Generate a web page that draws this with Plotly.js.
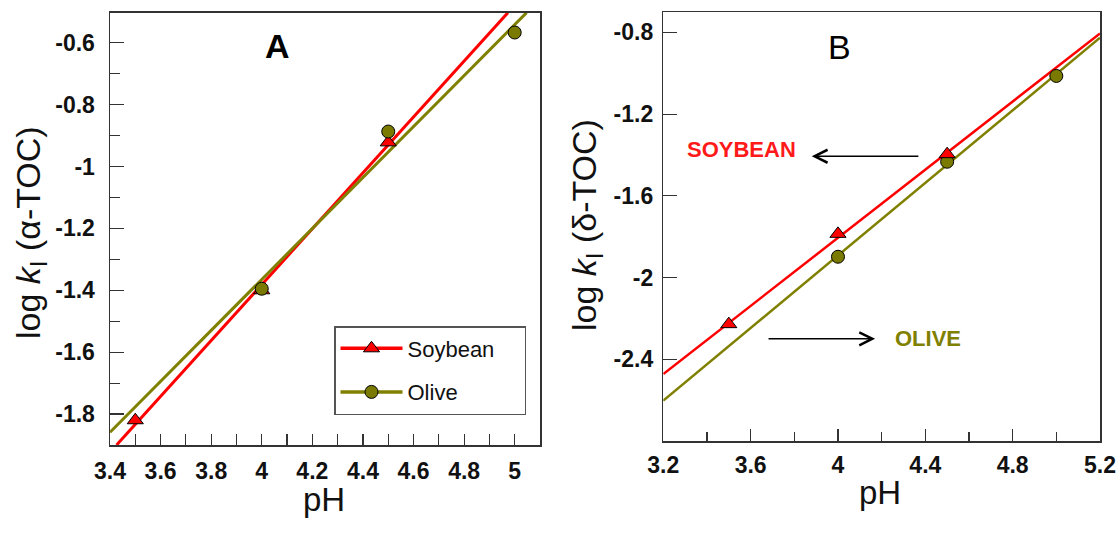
<!DOCTYPE html>
<html>
<head>
<meta charset="utf-8">
<script src="https://cdn.plot.ly/plotly-3.0.1.min.js"></script>
<style>html,body{margin:0;padding:0;background:#fff;}#chart{width:1116px;height:533px;}</style>
</head>
<body>
<div id="chart"></div>
<script>
// ---- Panel A (alpha-TOC) ----
const phA_soy = [3.5, 4.0, 4.5];
const logkA_soy = [-1.82, -1.40, -0.922];
const phA_olive = [4.0, 4.5, 5.0];
const logkA_olive = [-1.395, -0.887, -0.567];
const fitA_soy_ph = [3.426, 4.973];
const fitA_soy_logk = [-1.90, -0.503];
const fitA_olive_ph = [3.40, 5.047];
const fitA_olive_logk = [-1.859, -0.503];

// ---- Panel B (delta-TOC) ----
const phB_soy = [3.5, 4.0, 4.5];
const logkB_soy = [-2.228, -1.786, -1.396];
const phB_olive = [4.0, 4.5, 5.0];
const logkB_olive = [-1.898, -1.433, -1.013];
const fitB_soy_ph = [3.2, 5.2];
const fitB_soy_logk = [-2.472, -0.805];
const fitB_olive_ph = [3.2, 5.2];
const fitB_olive_logk = [-2.602, -0.826];

// ---- Tick labels ----
const xTicksA = [3.4, 3.6, 3.8, 4.0, 4.2, 4.4, 4.6, 4.8, 5.0];
const xTickTextA = ["3.4", "3.6", "3.8", "4", "4.2", "4.4", "4.6", "4.8", "5"];
const yTicksA = [-1.8, -1.6, -1.4, -1.2, -1.0, -0.8, -0.6];
const yTickTextA = ["-1.8", "-1.6", "-1.4", "-1.2", "-1", "-0.8", "-0.6"];
const xTicksB = [3.2, 3.6, 4.0, 4.4, 4.8, 5.2];
const xTickTextB = ["3.2", "3.6", "4", "4.4", "4.8", "5.2"];
const yTicksB = [-2.4, -2.0, -1.6, -1.2, -0.8];
const yTickTextB = ["-2.4", "-2", "-1.6", "-1.2", "-0.8"];

const RED = '#ff0000';
const OLIVE = '#808000';
const FONT = 'Liberation Sans, Arial, sans-serif';
const NB = '\u00a0';

const triMarker = {symbol: 'triangle-up', size: 14, color: RED, line: {color: '#000', width: 1}};
const cirMarker = {symbol: 'circle', size: 13, color: '#7a7a00', line: {color: '#000', width: 1}};

const traces = [
  // Panel A lines
  {x: fitA_soy_ph, y: fitA_soy_logk, mode: 'lines', line: {color: RED, width: 3}, xaxis: 'x', yaxis: 'y', showlegend: false, hoverinfo: 'skip'},
  {x: fitA_olive_ph, y: fitA_olive_logk, mode: 'lines', line: {color: OLIVE, width: 3}, xaxis: 'x', yaxis: 'y', showlegend: false, hoverinfo: 'skip'},
  // Panel A points
  {x: phA_soy, y: logkA_soy, mode: 'markers', marker: triMarker, xaxis: 'x', yaxis: 'y', showlegend: false},
  {x: phA_olive, y: logkA_olive, mode: 'markers', marker: cirMarker, xaxis: 'x', yaxis: 'y', showlegend: false},
  // Legend entries
  {x: [null], y: [null], name: 'Soybean' + NB.repeat(4), mode: 'lines+markers', line: {color: RED, width: 3.5}, marker: triMarker, xaxis: 'x', yaxis: 'y', legendgroup: 'g1'},
  {x: [null], y: [null], name: 'Olive', mode: 'lines+markers', line: {color: OLIVE, width: 3.5}, marker: cirMarker, xaxis: 'x', yaxis: 'y', legendgroup: 'g2'},
  // Panel B lines
  {x: fitB_olive_ph, y: fitB_olive_logk, mode: 'lines', line: {color: OLIVE, width: 2.5}, xaxis: 'x2', yaxis: 'y2', showlegend: false, hoverinfo: 'skip'},
  {x: fitB_soy_ph, y: fitB_soy_logk, mode: 'lines', line: {color: RED, width: 2.5}, xaxis: 'x2', yaxis: 'y2', showlegend: false, hoverinfo: 'skip'},
  // Panel B points
  {x: phB_olive, y: logkB_olive, mode: 'markers', marker: cirMarker, xaxis: 'x2', yaxis: 'y2', showlegend: false},
  {x: phB_soy, y: logkB_soy, mode: 'markers', marker: triMarker, xaxis: 'x2', yaxis: 'y2', showlegend: false}
];

const AX = '#333333';
const tickFont = {family: FONT, size: 23, weight: 700, color: '#111'};
function axis(extra) {
  return Object.assign({
    showline: true, linecolor: AX, linewidth: 1.5, mirror: true,
    showgrid: false, zeroline: false, ticks: 'inside', tickcolor: AX, tickwidth: 1.2,
    tickmode: 'array', tickfont: tickFont, fixedrange: true
  }, extra);
}

const W = 1116, H = 533;
const px = v => v / W;
const py = v => 1 - v / H;

const layout = {
  width: W, height: H,
  margin: {l: 0, r: 0, t: 0, b: 0},
  paper_bgcolor: '#fff', plot_bgcolor: '#fff',
  font: {family: FONT, color: '#111'},
  xaxis: axis({domain: [px(110), px(540)], range: [3.4, 5.1], anchor: 'y',
    tickvals: xTicksA, ticktext: xTickTextA, ticklen: 11, ticklabelstandoff: 5,
    minor: {tickmode: 'linear', tick0: 3.4, dtick: 0.1, ticks: 'inside', ticklen: 11, tickcolor: AX, tickwidth: 1.2}}),
  yaxis: axis({domain: [py(445), py(12.7)], range: [-1.9, -0.503], anchor: 'x',
    tickvals: yTicksA, ticktext: yTickTextA, ticklen: 14, ticklabelstandoff: 9,
    minor: {tickmode: 'linear', tick0: -1.9, dtick: 0.1, ticks: 'inside', ticklen: 10, tickcolor: AX, tickwidth: 1.2}}),
  xaxis2: axis({domain: [px(663.3), px(1100)], range: [3.2, 5.2], anchor: 'y2',
    tickvals: xTicksB, ticktext: xTickTextB, ticklen: 12, ticklabelstandoff: 3,
    minor: {tickmode: 'linear', tick0: 3.2, dtick: 0.2, ticks: 'inside', ticklen: 9, tickcolor: AX, tickwidth: 1.2}}),
  yaxis2: axis({domain: [py(441), py(12)], range: [-2.8, -0.7], anchor: 'x2',
    tickvals: yTicksB, ticktext: yTickTextB, ticklen: 14, ticklabelstandoff: 4}),
  showlegend: true,
  legend: {x: px(334), y: py(326), xanchor: 'left', yanchor: 'top',
    bordercolor: '#555', borderwidth: 1.5, bgcolor: '#fff',
    font: {family: FONT, size: 22, color: '#111'}, itemwidth: 62,
    tracegroupgap: 12, traceorder: 'grouped', itemclick: false, itemdoubleclick: false},
  annotations: [
    {text: '<b>A</b>', xref: 'paper', yref: 'paper', x: px(277.5), y: py(46), showarrow: false, xanchor: 'center', yanchor: 'middle', font: {family: FONT, size: 34, color: '#000'}},
    {text: 'B', xref: 'paper', yref: 'paper', x: px(839.6), y: py(47.3), showarrow: false, xanchor: 'center', yanchor: 'middle', font: {family: FONT, size: 34, color: '#000'}},
    {text: 'pH', xref: 'paper', yref: 'paper', x: px(324), y: py(499), showarrow: false, xanchor: 'center', yanchor: 'middle', font: {family: FONT, size: 33, color: '#111'}},
    {text: 'pH', xref: 'paper', yref: 'paper', x: px(880), y: py(492), showarrow: false, xanchor: 'center', yanchor: 'middle', font: {family: FONT, size: 33, color: '#111'}},
    {text: 'log <i>k</i><sub>I</sub> (α-TOC)', xref: 'paper', yref: 'paper', x: px(30), y: py(233), textangle: -90, showarrow: false, xanchor: 'center', yanchor: 'middle', font: {family: FONT, size: 34, color: '#111'}},
    {text: 'log <i>k</i><sub>I</sub> (δ-TOC)', xref: 'paper', yref: 'paper', x: px(586), y: py(225), textangle: -90, showarrow: false, xanchor: 'center', yanchor: 'middle', font: {family: FONT, size: 34, color: '#111'}},
    {text: '<b>SOYBEAN</b>', xref: 'x2', yref: 'y2', x: 3.56, y: -1.372, showarrow: false, xanchor: 'center', yanchor: 'middle', font: {family: FONT, size: 22, color: '#ff1a1a'}},
    {text: '<b>OLIVE</b>', xref: 'x2', yref: 'y2', x: 4.41, y: -2.297, showarrow: false, xanchor: 'center', yanchor: 'middle', font: {family: FONT, size: 22, color: OLIVE}},
    {text: '', xref: 'x2', yref: 'y2', axref: 'x2', ayref: 'y2', x: 3.88, y: -1.406, ax: 4.375, ay: -1.406, showarrow: true, arrowhead: 5, arrowsize: 1.7, arrowwidth: 1.5, arrowcolor: '#000'},
    {text: '', xref: 'x2', yref: 'y2', axref: 'x2', ayref: 'y2', x: 4.17, y: -2.30, ax: 3.675, ay: -2.30, showarrow: true, arrowhead: 5, arrowsize: 1.7, arrowwidth: 1.5, arrowcolor: '#000'}
  ]
};

Plotly.newPlot('chart', traces, layout, {displayModeBar: false, staticPlot: true});
</script>
</body>
</html>
